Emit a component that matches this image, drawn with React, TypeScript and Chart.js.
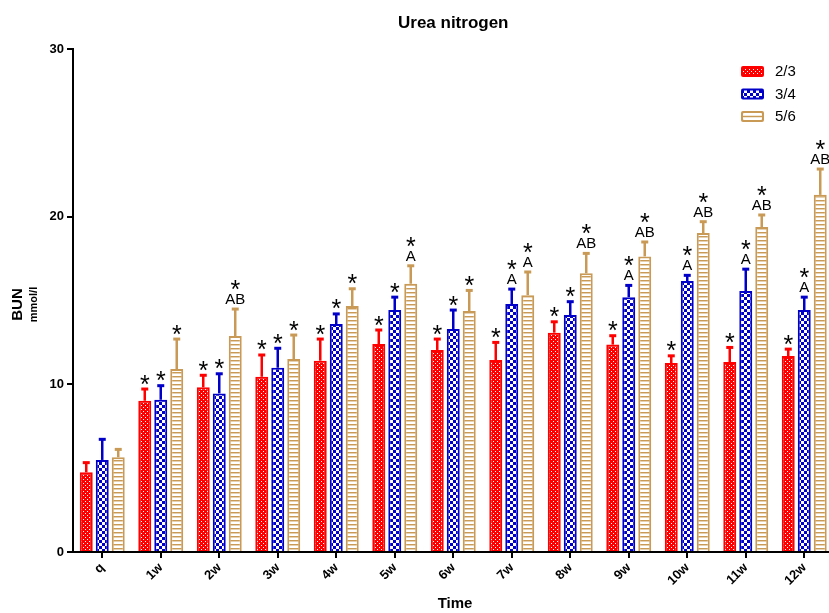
import React, { useEffect, useRef } from 'react';
import { Chart, registerables } from 'chart.js';
Chart.register(...registerables);

const categories = ['q', '1w', '2w', '3w', '4w', '5w', '6w', '7w', '8w', '9w', '10w', '11w', '12w'];
const seriesNames = ['2/3', '3/4', '5/6'];

const mean23 = [4.75, 9.02, 9.82, 10.45, 11.41, 12.4, 12.05, 11.45, 13.08, 12.37, 11.27, 11.33, 11.69];
const sd23 = [0.58, 0.7, 0.72, 1.3, 1.29, 0.84, 0.65, 1.05, 0.65, 0.53, 0.43, 0.87, 0.41];
const mean34 = [5.49, 9.08, 9.46, 10.99, 13.6, 14.43, 13.3, 14.79, 14.13, 15.2, 16.16, 15.56, 14.43];
const sd34 = [1.23, 0.84, 1.17, 1.16, 0.6, 0.77, 1.13, 0.89, 0.8, 0.7, 0.34, 1.31, 0.77];
const mean56 = [5.65, 10.91, 12.88, 11.51, 14.67, 16.0, 14.37, 15.32, 16.62, 17.63, 19.02, 19.38, 21.3];
const sd56 = [0.47, 1.79, 1.61, 1.43, 1.03, 1.07, 1.23, 1.38, 1.19, 0.86, 0.68, 0.72, 1.54];

const star23 = ['', '*', '*', '*', '*', '*', '*', '*', '*', '*', '*', '*', '*'];
const star34 = ['', '*', '*', '*', '*', '*', '*', '*', '*', '*', '*', '*', '*'];
const star56 = ['', '*', '*', '*', '*', '*', '*', '*', '*', '*', '*', '*', '*'];
const letter23 = ['', '', '', '', '', '', '', '', '', '', '', '', ''];
const letter34 = ['', '', '', '', '', '', '', 'A', '', 'A', 'A', 'A', 'A'];
const letter56 = ['', '', 'AB', '', '', 'A', '', 'A', 'AB', 'AB', 'AB', 'AB', 'AB'];

const yMin = 0;
const yMax = 30;
const yStep = 10;

const RED = '#FF0000';
const BLUE = '#0000C8';
const GOLD = '#C99A56';
const FONT = "'Liberation Sans', Arial, sans-serif";

const W = 836;
const H = 613;

function makePattern(kind: string): CanvasPattern | string {
  const c = document.createElement('canvas');
  const g = c.getContext('2d')!;
  if (kind === 'red') {
    c.width = 4; c.height = 4;
    g.fillStyle = RED; g.fillRect(0, 0, 4, 4);
    g.fillStyle = '#FFFFFF'; g.fillRect(1, 1, 1, 1); g.fillRect(3, 3, 1, 1);
  } else if (kind === 'blue') {
    c.width = 6; c.height = 6;
    g.fillStyle = BLUE; g.fillRect(0, 0, 6, 6);
    g.fillStyle = '#FFFFFF'; g.fillRect(0, 0, 3, 3); g.fillRect(3, 3, 3, 3);
  } else {
    c.width = 4; c.height = 4;
    g.fillStyle = '#FFFFFF'; g.fillRect(0, 0, 4, 4);
    g.fillStyle = GOLD; g.fillRect(0, 0, 4, 1);
    g.fillStyle = 'rgba(201,154,86,0.45)'; g.fillRect(0, 1, 4, 1);
  }
  const p = g.createPattern(c, 'repeat');
  return p || RED;
}

export default function App() {
  const ref = useRef<HTMLCanvasElement | null>(null);

  useEffect(() => {
    if (!ref.current) return;
    const groups = [
      { mean: mean23, sd: sd23, color: RED, star: star23, letter: letter23 },
      { mean: mean34, sd: sd34, color: BLUE, star: star34, letter: letter34 },
      { mean: mean56, sd: sd56, color: GOLD, star: star56, letter: letter56 },
    ];

    const custom = {
      id: 'customDraw',
      afterDatasetsDraw(chart: any) {
        const ctx: CanvasRenderingContext2D = chart.ctx;
        const ys = chart.scales.y;
        groups.forEach((g, d) => {
          const meta = chart.getDatasetMeta(d);
          meta.data.forEach((el: any, i: number) => {
            const x = el.x;
            const top = el.y;
            const ey = ys.getPixelForValue(g.mean[i] + g.sd[i]);
            ctx.save();
            ctx.strokeStyle = g.color;
            ctx.lineWidth = 2.5;
            ctx.beginPath(); ctx.moveTo(x, top); ctx.lineTo(x, ey); ctx.stroke();
            ctx.lineWidth = 3;
            ctx.beginPath(); ctx.moveTo(x - 3.5, ey); ctx.lineTo(x + 3.5, ey); ctx.stroke();
            ctx.fillStyle = '#000';
            ctx.textAlign = 'center';
            ctx.textBaseline = 'alphabetic';
            let starBottom = ey - 4.5;
            if (g.letter[i]) {
              ctx.font = `15px ${FONT}`;
              ctx.fillText(g.letter[i], x, ey - 5);
              starBottom = ey - 19;
            }
            if (g.star[i]) {
              ctx.font = `25px ${FONT}`;
              const m = ctx.measureText('*');
              const off = -m.actualBoundingBoxDescent;
              ctx.fillText('*', x, starBottom + off);
            }
            ctx.restore();
          });
        });
      },
      afterDraw(chart: any) {
        const ctx: CanvasRenderingContext2D = chart.ctx;
        const area = chart.chartArea;
        ctx.save();
        ctx.fillStyle = '#000';
        ctx.textAlign = 'center';
        ctx.textBaseline = 'alphabetic';
        ctx.font = `bold 17px ${FONT}`;
        ctx.fillText('Urea nitrogen', (area.left + area.right) / 2, 27.5);
        ctx.font = `bold 15px ${FONT}`;
        ctx.fillText('Time', 455, 608);
        const cy = (area.top + area.bottom) / 2 + 4;
        ctx.save();
        ctx.translate(18, cy);
        ctx.rotate(-Math.PI / 2);
        ctx.textBaseline = 'middle';
        ctx.font = `bold 15px ${FONT}`;
        ctx.fillText('BUN', 0, 0);
        ctx.restore();
        ctx.save();
        ctx.translate(33.5, cy);
        ctx.rotate(-Math.PI / 2);
        ctx.textBaseline = 'middle';
        ctx.font = `bold 11px ${FONT}`;
        ctx.fillText('mmol/l', 0, 0);
        ctx.restore();
        const rows = [71.5, 94, 116.5];
        const cols = [RED, BLUE, GOLD];
        const pats = [makePattern('red'), makePattern('blue'), null];
        rows.forEach((ry, k) => {
          const bx = 741, bw = 23, bh = 11, by = ry - bh / 2;
          ctx.beginPath();
          (ctx as any).roundRect(bx, by, bw, bh, 2);
          ctx.fillStyle = cols[k];
          ctx.fill();
          ctx.beginPath();
          (ctx as any).roundRect(bx + 2, by + 2, bw - 4, bh - 4, 1);
          ctx.fillStyle = pats[k] ? (pats[k] as any) : '#FFFFFF';
          ctx.fill();
          if (k === 2) {
            ctx.fillStyle = GOLD;
            ctx.fillRect(bx + 2, ry - 0.75, bw - 4, 1.5);
          }
          ctx.fillStyle = '#000';
          ctx.textAlign = 'left';
          ctx.textBaseline = 'middle';
          ctx.font = `15px ${FONT}`;
          ctx.fillText(seriesNames[k], 775, ry + 0.5);
        });
        ctx.restore();
      },
    };

    const chart = new Chart(ref.current, {
      type: 'bar',
      data: {
        labels: categories,
        datasets: [
          { label: seriesNames[0], data: mean23, backgroundColor: makePattern('red') as any, borderColor: RED, borderWidth: 2 },
          { label: seriesNames[1], data: mean34, backgroundColor: makePattern('blue') as any, borderColor: BLUE, borderWidth: 2 },
          { label: seriesNames[2], data: mean56, backgroundColor: makePattern('gold') as any, borderColor: GOLD, borderWidth: 2 },
        ],
      },
      options: {
        responsive: false,
        animation: false,
        devicePixelRatio: 1,
        layout: { padding: { top: 49, right: 2.5, left: 0, bottom: 0 } },
        datasets: { bar: { categoryPercentage: 0.82, barPercentage: 0.81 } },
        plugins: { legend: { display: false }, title: { display: false }, tooltip: { enabled: false } },
        scales: {
          x: {
            grid: { offset: false, drawOnChartArea: false, drawTicks: true, tickLength: 6, color: '#000', lineWidth: 2 },
            border: { display: true, color: '#000', width: 2 },
            ticks: { autoSkip: false, maxRotation: 45, minRotation: 45, color: '#000', padding: 2, font: { family: FONT, weight: 'bold', size: 13 } },
            afterFit: (s: any) => { s.height = 61; },
          },
          y: {
            min: yMin,
            max: yMax,
            grid: { drawOnChartArea: false, drawTicks: true, tickLength: 6, color: '#000', lineWidth: 2 },
            border: { display: true, color: '#000', width: 2 },
            ticks: { stepSize: yStep, color: '#000', padding: 3, font: { family: FONT, weight: 'bold', size: 13 } },
            afterFit: (s: any) => { s.width = 73; },
          },
        },
      } as any,
      plugins: [custom],
    });
    return () => chart.destroy();
  }, []);

  return (
    <div style={{ position: 'fixed', left: 0, top: 0, width: 829, height: 613, overflow: 'hidden', background: '#fff' }}>
      <canvas ref={ref} width={W} height={H} style={{ width: W, height: H, display: 'block' }} />
    </div>
  );
}
